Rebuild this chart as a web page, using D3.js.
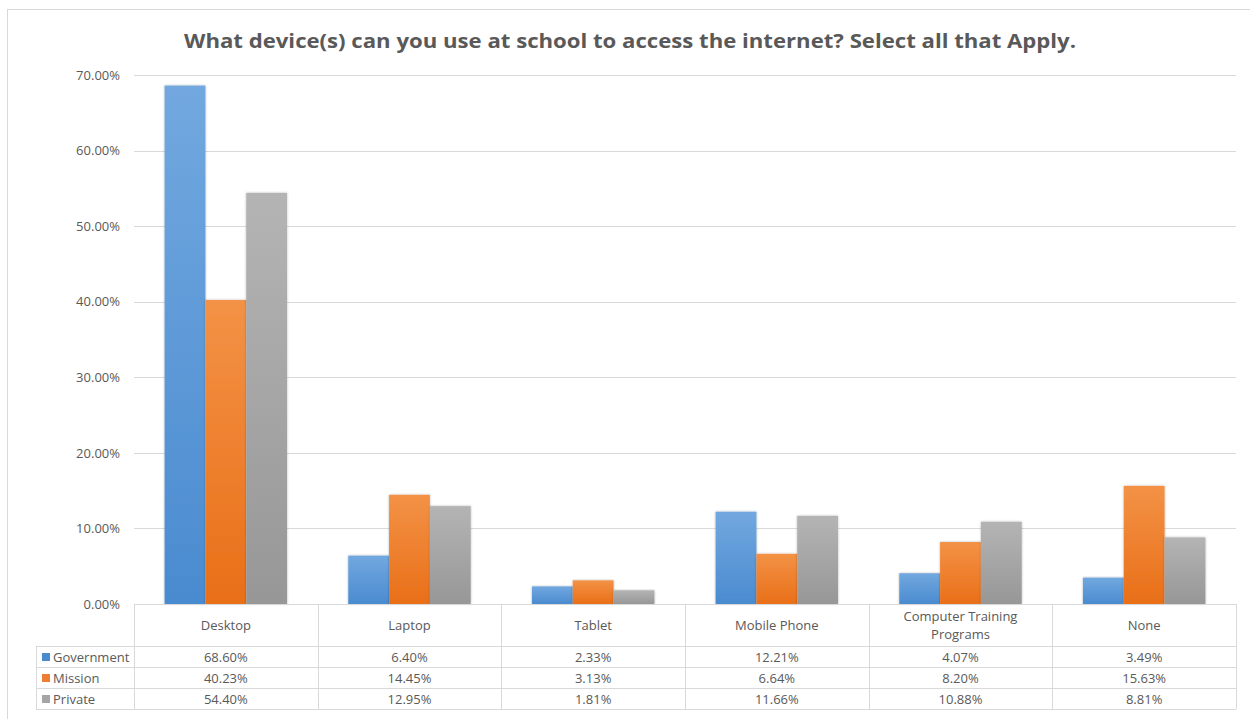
<!DOCTYPE html>
<html>
<head>
<meta charset="utf-8">
<script src="https://cdn.jsdelivr.net/npm/d3@7"></script>
<style>
  html, body { margin: 0; padding: 0; background: #fff; }
  svg { display: block; font-family: "Open Sans", "Liberation Sans", sans-serif; }
</style>
</head>
<body>
<svg id="chart" width="1250" height="719"></svg>
<script>
// Survey results: devices available at school for internet access, by school type
const categories = ["Desktop", "Laptop", "Tablet", "Mobile Phone", "Computer Training Programs", "None"];
const seriesNames = ["Government", "Mission", "Private"];
const government = [68.60, 6.40, 2.33, 12.21, 4.07, 3.49];
const mission = [40.23, 14.45, 3.13, 6.64, 8.20, 15.63];
const privateSchools = [54.40, 12.95, 1.81, 11.66, 10.88, 8.81];
const yTicks = [0, 10, 20, 30, 40, 50, 60, 70];
const titleText = "What device(s) can you use at school to access the internet? Select all that Apply.";

const seriesValues = [government, mission, privateSchools];
const colors = {
  Government: { top: "#72a8df", bottom: "#4a8bd0", solid: "#4a8bd0" },
  Mission:    { top: "#f39246", bottom: "#e96f18", solid: "#ed7d31" },
  Private:    { top: "#b4b4b4", bottom: "#979797", solid: "#a5a5a5" }
};
const textColor = "#595959";
const lineColor = "#d9d9d9";

const svg = d3.select("#chart");
const defs = svg.append("defs");

seriesNames.forEach(name => {
  const g = defs.append("linearGradient")
    .attr("id", "grad-" + name)
    .attr("x1", 0).attr("y1", 0).attr("x2", 0).attr("y2", 1);
  g.append("stop").attr("offset", "0%").attr("stop-color", colors[name].top);
  g.append("stop").attr("offset", "100%").attr("stop-color", colors[name].bottom);
});

const shadow = defs.append("filter").attr("id", "barShadow")
  .attr("x", "-20%").attr("y", "-5%").attr("width", "140%").attr("height", "110%");
shadow.append("feDropShadow")
  .attr("dx", 0).attr("dy", 0).attr("stdDeviation", 1.3)
  .attr("flood-color", "#000").attr("flood-opacity", 0.3);

// Chart frame
svg.append("rect")
  .attr("x", 7.5).attr("y", 9.5)
  .attr("width", 1260).attr("height", 720)
  .attr("fill", "#fff").attr("stroke", lineColor).attr("stroke-width", 1);

const plotLeft = 134, plotRight = 1236, plotTop = 75, plotBottom = 604;

const x = d3.scaleBand().domain(categories).range([plotLeft, plotRight]).paddingInner(0).paddingOuter(0);
const xInner = d3.scaleBand().domain(seriesNames).range([0, x.bandwidth()]).paddingInner(0).paddingOuter(0.75);
const y = d3.scaleLinear().domain([0, 70]).range([plotBottom, plotTop]);

// Title
const title = svg.append("text")
  .attr("x", 630).attr("y", 48)
  .attr("text-anchor", "middle")
  .attr("font-size", 20).attr("font-weight", 700)
  .attr("fill", textColor)
  .text(titleText);
title.attr("textLength", 892).attr("lengthAdjust", "spacingAndGlyphs");

// Gridlines and y labels
const yAxis = d3.axisLeft(y)
  .tickValues(yTicks)
  .tickSize(-(plotRight - plotLeft))
  .tickPadding(14)
  .tickFormat(d => d.toFixed(2) + "%");
const gy = svg.append("g").attr("transform", `translate(${plotLeft},0)`).call(yAxis);
gy.select(".domain").remove();
gy.selectAll(".tick line").attr("stroke", lineColor).attr("stroke-width", 1)
  .attr("shape-rendering", "crispEdges");
gy.selectAll(".tick text").attr("fill", textColor).attr("font-size", 13)
  .attr("font-family", "'Open Sans', sans-serif");

// Bars
const barData = [];
categories.forEach((c, i) => {
  seriesNames.forEach((s, j) => {
    barData.push({ category: c, series: s, value: seriesValues[j][i] });
  });
});

svg.append("g").selectAll("rect")
  .data(barData)
  .join("rect")
  .attr("x", d => x(d.category) + xInner(d.series))
  .attr("y", d => y(d.value))
  .attr("width", xInner.bandwidth())
  .attr("height", d => y(0) - y(d.value))
  .attr("fill", d => `url(#grad-${d.series})`)
  .attr("filter", "url(#barShadow)");

// Data table below the plot
const headerTop = plotBottom, headerBottom = 646;
const rowH = 21;
const tableLeft = 36;
const rowTops = seriesNames.map((s, i) => headerBottom + i * rowH);
const tableBottom = headerBottom + seriesNames.length * rowH;

const table = svg.append("g").attr("shape-rendering", "crispEdges")
  .attr("stroke", lineColor).attr("stroke-width", 1);

// horizontal lines
table.append("line").attr("x1", plotLeft).attr("x2", plotRight)
  .attr("y1", headerTop + 0.5).attr("y2", headerTop + 0.5);
[headerBottom, ...rowTops.slice(1), tableBottom].forEach(yy => {
  table.append("line").attr("x1", tableLeft).attr("x2", plotRight)
    .attr("y1", yy + 0.5).attr("y2", yy + 0.5);
});
// vertical lines
table.append("line").attr("x1", tableLeft + 0.5).attr("x2", tableLeft + 0.5)
  .attr("y1", headerBottom).attr("y2", tableBottom);
categories.forEach(c => {
  const xx = Math.round(x(c)) + 0.5;
  table.append("line").attr("x1", xx).attr("x2", xx)
    .attr("y1", headerTop).attr("y2", tableBottom);
});
table.append("line").attr("x1", plotRight + 0.5).attr("x2", plotRight + 0.5)
  .attr("y1", headerTop).attr("y2", tableBottom);

// category header labels (wrapped when long)
const headerLines = {
  "Computer Training Programs": ["Computer Training", "Programs"]
};
const headers = svg.append("g").attr("fill", textColor).attr("font-size", 13)
  .attr("text-anchor", "middle");
categories.forEach(c => {
  const lines = headerLines[c] || [c];
  const cx = x(c) + x.bandwidth() / 2;
  const mid = (headerTop + headerBottom) / 2;
  lines.forEach((ln, k) => {
    headers.append("text")
      .attr("x", cx)
      .attr("y", mid + (k - (lines.length - 1) / 2) * 18)
      .attr("dy", "0.35em")
      .text(ln);
  });
});

// legend keys and values
const rows = svg.append("g").attr("fill", textColor).attr("font-size", 13);
seriesNames.forEach((s, j) => {
  const cy = rowTops[j] + rowH / 2 + 0.5;
  rows.append("rect").attr("x", 42).attr("y", cy - 4).attr("width", 8).attr("height", 8)
    .attr("fill", colors[s].solid);
  rows.append("text").attr("x", 53).attr("y", cy).attr("dy", "0.35em").text(s);
  categories.forEach((c, i) => {
    rows.append("text")
      .attr("x", x(c) + x.bandwidth() / 2)
      .attr("y", cy).attr("dy", "0.35em")
      .attr("text-anchor", "middle")
      .text(seriesValues[j][i].toFixed(2) + "%");
  });
});
</script>
</body>
</html>
